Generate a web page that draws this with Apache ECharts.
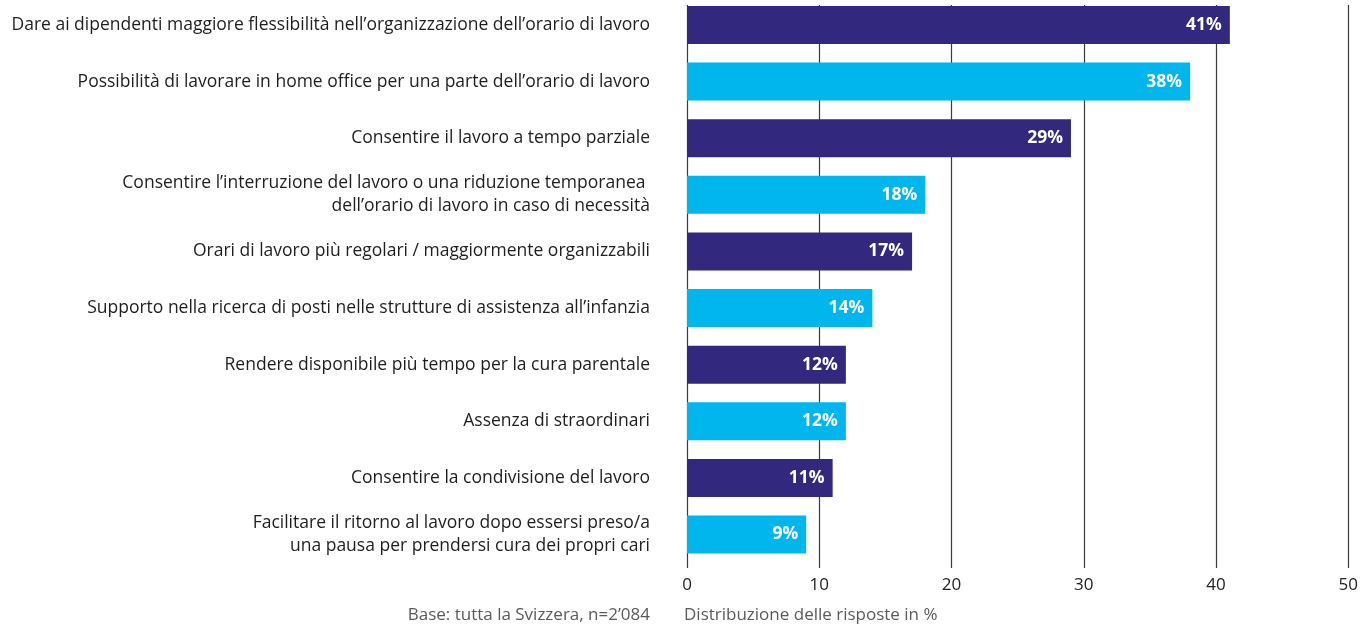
<!DOCTYPE html>
<html>
<head>
<meta charset="utf-8">
<script src="https://cdn.jsdelivr.net/npm/echarts@6/dist/echarts.min.js"></script>
<style>
  html, body { margin: 0; padding: 0; background: #fff; }
  #chart { width: 1361px; height: 624px; }
</style>
</head>
<body>
<div id="chart"></div>
<script>
// categories, top to bottom
var categories = [
  'Dare ai dipendenti maggiore flessibilità nell’organizzazione dell’orario di lavoro',
  'Possibilità di lavorare in home office per una parte dell’orario di lavoro',
  'Consentire il lavoro a tempo parziale',
  'Consentire l’interruzione del lavoro o una riduzione temporanea \ndell’orario di lavoro in caso di necessità',
  'Orari di lavoro più regolari / maggiormente organizzabili',
  'Supporto nella ricerca di posti nelle strutture di assistenza all’infanzia',
  'Rendere disponibile più tempo per la cura parentale',
  'Assenza di straordinari',
  'Consentire la condivisione del lavoro',
  'Facilitare il ritorno al lavoro dopo essersi preso/a\nuna pausa per prendersi cura dei propri cari'
];
var values = [41, 38, 29, 18, 17, 14, 12, 12, 11, 9];
var xTicks = [0, 10, 20, 30, 40, 50];
var baseNote = 'Base: tutta la Svizzera, n=2’084';
var axisNote = 'Distribuzione delle risposte in %';

var dark = '#32287e';
var light = '#00b6ed';
var font = '"Open Sans", "Noto Sans", sans-serif';

var chart = echarts.init(document.getElementById('chart'));
var option = {
  animation: false,
  textStyle: { fontFamily: font },
  grid: [
    // grid for gridlines + axis labels
    { left: 687, right: 12, top: 5, bottom: 56 },
    // grid for bars: first/last category centred on the grid edges
    { left: 687, right: 12, top: 25, bottom: 89.5 }
  ],
  xAxis: [
    {
      gridIndex: 0,
      type: 'value',
      min: xTicks[0],
      max: xTicks[xTicks.length - 1],
      interval: 10,
      axisLine: { show: false },
      axisTick: { show: false },
      axisLabel: { color: '#222', fontSize: 17, margin: 9, fontFamily: font },
      splitLine: { lineStyle: { color: '#3a3a3a', width: 1.2 } }
    },
    {
      gridIndex: 1,
      type: 'value',
      min: 0,
      max: 50,
      show: false
    }
  ],
  yAxis: [
    {
      gridIndex: 0,
      type: 'category',
      data: [''],
      show: false
    },
    {
      gridIndex: 1,
      type: 'category',
      inverse: true,
      boundaryGap: false,
      data: categories,
      axisLine: { show: false },
      axisTick: { show: false },
      splitLine: { show: false },
      axisLabel: {
        color: '#1e1e1e',
        fontSize: 17.5,
        lineHeight: 23,
        margin: 37,
        align: 'right',
        fontFamily: font
      }
    }
  ],
  series: [
    {
      type: 'bar',
      xAxisIndex: 1,
      yAxisIndex: 1,
      barWidth: 38,
      clip: false,
      data: values.map(function (v, i) {
        return { value: v, itemStyle: { color: i % 2 === 0 ? dark : light } };
      }),
      label: {
        show: true,
        position: 'insideRight',
        distance: 8,
        color: '#fff',
        fontWeight: 'bold',
        fontSize: 17.5,
        fontFamily: font,
        formatter: '{c}%'
      }
    }
  ],
  graphic: [
    {
      type: 'text',
      right: 1361 - 650,
      top: 607,
      style: { text: baseNote, fill: '#5a5a5a', fontSize: 17, fontFamily: font }
    },
    {
      type: 'text',
      left: 684,
      top: 607,
      style: { text: axisNote, fill: '#5a5a5a', fontSize: 17, fontFamily: font }
    }
  ]
};
chart.setOption(option);
</script>
</body>
</html>
